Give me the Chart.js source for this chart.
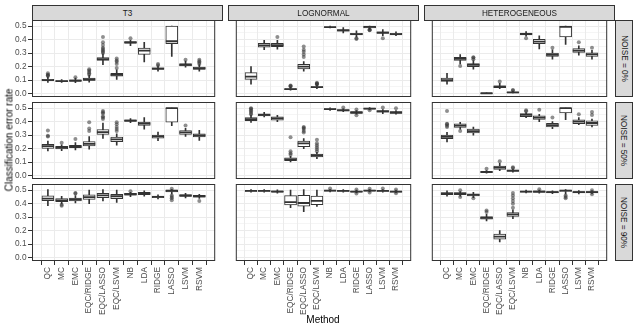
<!DOCTYPE html>
<html>
<head>
<meta charset="utf-8">
<script src="https://cdn.jsdelivr.net/npm/chart.js@4.4.0/dist/chart.umd.min.js"></script>
<style>
  body { margin: 0; background: #fff; font-family: "Liberation Sans", Arial, sans-serif; }
  #wrap { position: relative; width: 636px; height: 330px; overflow: hidden; background: #fff; }
  canvas { position: absolute; }
  .strip { position: absolute; box-sizing: border-box; background: #d9d9d9; border: 1px solid #333;
           color: #1a1a1a; font-size: 8.2px; display: flex; align-items: center; justify-content: center; }
  .strip span { white-space: nowrap; }
  .vstrip span { transform: rotate(90deg); }
  .title { position: absolute; font-size: 10px; color: #000; white-space: nowrap; }
</style>
</head>
<body>
<div id="wrap"></div>
<script>
const methods = ['QC', 'MC', 'EMC', 'EQC/RIDGE', 'EQC/LASSO', 'EQC/LSVM', 'NB', 'LDA', 'RIDGE', 'LASSO', 'LSVM', 'RSVM'];
const distributions = ['T3', 'LOGNORMAL', 'HETEROGENEOUS'];
const noiseLevels = ['NOISE = 0%', 'NOISE = 50%', 'NOISE = 90%'];
const yTicks = [0, 0.1, 0.2, 0.3, 0.4, 0.5];

// box stats per method: [lower whisker, q1, median, q3, upper whisker]
const t3Noise0 = [
  [0.082, 0.093, 0.100, 0.106, 0.122], [0.083, 0.088, 0.092, 0.096, 0.104], [0.080, 0.090, 0.095, 0.101, 0.115],
  [0.085, 0.097, 0.104, 0.114, 0.135], [0.215, 0.245, 0.255, 0.266, 0.295], [0.105, 0.128, 0.138, 0.150, 0.175],
  [0.355, 0.373, 0.379, 0.385, 0.395], [0.235, 0.291, 0.318, 0.337, 0.380], [0.165, 0.179, 0.185, 0.191, 0.205],
  [0.275, 0.370, 0.388, 0.500, 0.500], [0.195, 0.205, 0.213, 0.222, 0.240], [0.165, 0.178, 0.187, 0.197, 0.215]
];
const t3Noise0Out = [[0.13, 0.135, 0.14, 0.15], [], [0.12], [0.14, 0.15, 0.16, 0.17, 0.18],
  [0.30, 0.31, 0.32, 0.33, 0.34, 0.36, 0.38, 0.42], [0.19, 0.22, 0.235, 0.245, 0.26], [0.41], [],
  [0.21, 0.22], [], [0.25], [0.22, 0.23, 0.24, 0.25]];

const logNoise0 = [
  [0.070, 0.105, 0.125, 0.155, 0.200], [0.325, 0.345, 0.358, 0.372, 0.395], [0.330, 0.347, 0.360, 0.373, 0.395],
  [0.024, 0.029, 0.032, 0.036, 0.048], [0.165, 0.182, 0.200, 0.217, 0.238], [0.036, 0.043, 0.047, 0.051, 0.062],
  [0.487, 0.490, 0.493, 0.496, 0.500], [0.450, 0.463, 0.469, 0.475, 0.490], [0.420, 0.435, 0.441, 0.447, 0.465],
  [0.478, 0.488, 0.495, 0.500, 0.500], [0.430, 0.446, 0.452, 0.458, 0.475], [0.430, 0.435, 0.441, 0.447, 0.458]
];
const logNoise0Out = [[], [], [0.42], [0.052, 0.056, 0.06], [0.272, 0.29, 0.31, 0.325, 0.35],
  [0.066, 0.07, 0.075, 0.08], [], [], [0.405, 0.41], [0.47, 0.472, 0.475], [0.41], []];

const hetNoise0 = [
  [0.070, 0.090, 0.100, 0.114, 0.150], [0.220, 0.245, 0.257, 0.268, 0.290], [0.180, 0.200, 0.212, 0.222, 0.245],
  [0.000, 0.001, 0.002, 0.003, 0.005], [0.035, 0.044, 0.050, 0.057, 0.075], [0.000, 0.005, 0.008, 0.011, 0.018],
  [0.425, 0.436, 0.442, 0.448, 0.460], [0.332, 0.370, 0.385, 0.403, 0.428], [0.255, 0.275, 0.288, 0.300, 0.325],
  [0.365, 0.420, 0.495, 0.500, 0.500], [0.285, 0.305, 0.318, 0.333, 0.355], [0.255, 0.275, 0.290, 0.302, 0.320]
];
const hetNoise0Out = [[], [0.205], [0.255, 0.265, 0.27], [], [0.09], [0.022, 0.026], [0.41], [], [0.34], [], [0.38], [0.34]];

const t3Noise50 = [
  [0.182, 0.202, 0.218, 0.232, 0.255], [0.185, 0.198, 0.208, 0.216, 0.228], [0.190, 0.206, 0.215, 0.225, 0.245],
  [0.195, 0.220, 0.235, 0.252, 0.290], [0.275, 0.305, 0.322, 0.342, 0.390], [0.225, 0.252, 0.268, 0.285, 0.310],
  [0.393, 0.401, 0.407, 0.413, 0.422], [0.345, 0.372, 0.385, 0.396, 0.430], [0.258, 0.278, 0.290, 0.300, 0.322],
  [0.370, 0.397, 0.500, 0.500, 0.500], [0.290, 0.305, 0.320, 0.334, 0.350], [0.260, 0.287, 0.298, 0.310, 0.335]
];
const t3Noise50Out = [[0.29, 0.295, 0.335], [0.243], [0.272], [0.33, 0.35, 0.395], [0.42, 0.43, 0.44, 0.46, 0.47, 0.48],
  [0.33, 0.345, 0.36, 0.38, 0.395], [], [], [], [], [0.372], []];

const logNoise50 = [
  [0.395, 0.407, 0.418, 0.430, 0.448], [0.435, 0.442, 0.451, 0.459, 0.470], [0.400, 0.411, 0.424, 0.436, 0.447],
  [0.100, 0.110, 0.120, 0.131, 0.143], [0.200, 0.214, 0.238, 0.255, 0.275], [0.125, 0.138, 0.150, 0.160, 0.172],
  [0.483, 0.489, 0.493, 0.497, 0.503], [0.475, 0.479, 0.484, 0.489, 0.495], [0.455, 0.462, 0.468, 0.474, 0.482],
  [0.488, 0.492, 0.497, 0.500, 0.505], [0.460, 0.470, 0.476, 0.482, 0.490], [0.455, 0.462, 0.468, 0.474, 0.482]
];
const logNoise50Out = [[0.455, 0.465, 0.475, 0.485, 0.495, 0.5], [], [], [0.155, 0.165, 0.18, 0.285],
  [0.32, 0.33, 0.345, 0.355, 0.36], [0.18, 0.195, 0.21, 0.225, 0.24, 0.265], [], [0.505], [0.448, 0.49],
  [0.485], [0.505], [0.50]];

const hetNoise50 = [
  [0.250, 0.274, 0.288, 0.300, 0.320], [0.345, 0.357, 0.370, 0.383, 0.395], [0.300, 0.316, 0.330, 0.345, 0.360],
  [0.018, 0.022, 0.026, 0.030, 0.036], [0.035, 0.046, 0.058, 0.070, 0.090], [0.025, 0.031, 0.036, 0.040, 0.048],
  [0.430, 0.437, 0.450, 0.460, 0.468], [0.400, 0.417, 0.430, 0.444, 0.455], [0.348, 0.360, 0.374, 0.388, 0.400],
  [0.415, 0.465, 0.500, 0.500, 0.500], [0.378, 0.385, 0.400, 0.414, 0.430], [0.360, 0.372, 0.390, 0.407, 0.420]
];
const hetNoise50Out = [[0.36, 0.37, 0.38, 0.385, 0.48], [0.33], [], [0.05], [0.105], [0.056, 0.062],
  [0.478, 0.484], [0.488], [0.43], [], [0.455], [0.45, 0.472]];

const t3Noise90 = [
  [0.385, 0.422, 0.438, 0.458, 0.505], [0.400, 0.415, 0.425, 0.437, 0.455], [0.405, 0.420, 0.432, 0.442, 0.460],
  [0.400, 0.432, 0.448, 0.465, 0.500], [0.420, 0.445, 0.462, 0.476, 0.505], [0.410, 0.437, 0.455, 0.470, 0.500],
  [0.452, 0.463, 0.470, 0.477, 0.485], [0.455, 0.467, 0.476, 0.484, 0.495], [0.435, 0.444, 0.450, 0.457, 0.465],
  [0.470, 0.488, 0.496, 0.500, 0.505], [0.442, 0.453, 0.460, 0.467, 0.476], [0.438, 0.449, 0.455, 0.461, 0.470]
];
const t3Noise90Out = [[], [0.385, 0.392], [0.475, 0.48], [], [], [], [0.492], [], [],
  [0.425, 0.44, 0.45, 0.46, 0.51], [], [0.42]];

const logNoise90 = [
  [0.485, 0.491, 0.495, 0.499, 0.505], [0.485, 0.491, 0.495, 0.499, 0.505], [0.478, 0.485, 0.490, 0.495, 0.502],
  [0.370, 0.390, 0.412, 0.460, 0.500], [0.340, 0.382, 0.405, 0.462, 0.505], [0.380, 0.392, 0.420, 0.456, 0.500],
  [0.488, 0.493, 0.497, 0.500, 0.505], [0.485, 0.491, 0.495, 0.499, 0.505], [0.480, 0.486, 0.490, 0.494, 0.500],
  [0.488, 0.493, 0.497, 0.500, 0.505], [0.485, 0.491, 0.495, 0.499, 0.505], [0.480, 0.486, 0.490, 0.494, 0.500]
];
const logNoise90Out = [[], [], [], [], [], [], [0.512], [], [0.475, 0.505], [0.482, 0.51], [0.512], [0.478, 0.506]];

const hetNoise90 = [
  [0.455, 0.466, 0.474, 0.482, 0.495], [0.455, 0.466, 0.474, 0.482, 0.490], [0.445, 0.458, 0.465, 0.473, 0.485],
  [0.272, 0.284, 0.295, 0.304, 0.320], [0.115, 0.137, 0.155, 0.174, 0.200], [0.288, 0.305, 0.320, 0.334, 0.355],
  [0.480, 0.485, 0.490, 0.494, 0.500], [0.478, 0.484, 0.490, 0.495, 0.500], [0.475, 0.480, 0.485, 0.490, 0.495],
  [0.470, 0.490, 0.497, 0.500, 0.505], [0.472, 0.479, 0.485, 0.490, 0.498], [0.472, 0.479, 0.485, 0.490, 0.498]
];
const hetNoise90Out = [[], [0.45, 0.5], [0.44], [0.338, 0.35], [], [0.37, 0.4, 0.42, 0.44, 0.46, 0.48],
  [], [0.507], [], [0.44, 0.45, 0.46], [], [0.47, 0.5]];

const panels = [
  [[t3Noise0, t3Noise0Out], [logNoise0, logNoise0Out], [hetNoise0, hetNoise0Out]],
  [[t3Noise50, t3Noise50Out], [logNoise50, logNoise50Out], [hetNoise50, hetNoise50Out]],
  [[t3Noise90, t3Noise90Out], [logNoise90, logNoise90Out], [hetNoise90, hetNoise90Out]]
];

// layout of the facet grid
const panelLeft = [32, 228, 424], panelWidth = 191;
const panelTop = [20, 102, 184], panelHeight = 77;
const pad = 8, xAxisHeight = 60;
const ink = '#333333';

Chart.defaults.font.family = '"Liberation Sans", Arial, sans-serif';

const isMajor = v => Math.abs(v * 10 - Math.round(v * 10)) < 1e-6;
const yGrid = [];
yTicks.forEach((v, i) => {
  yGrid.push(v);
  if (i < yTicks.length - 1) yGrid.push((v + yTicks[i + 1]) / 2);
});

const panelBorder = {
  id: 'panelBorder',
  afterDraw(chart) {
    const { ctx, chartArea: a } = chart;
    ctx.save();
    ctx.strokeStyle = ink;
    ctx.lineWidth = 1;
    ctx.strokeRect(a.left + 0.5, a.top + 0.5, a.right - a.left - 1, a.bottom - a.top - 1);
    ctx.restore();
  }
};

const wrap = document.getElementById('wrap');

function makePanel(r, c) {
  const [stats, outliers] = panels[r][c];
  const left = c === 0, bottom = r === 2;
  const canvas = document.createElement('canvas');
  const cx = left ? 0 : panelLeft[c];
  const cw = left ? panelLeft[0] + panelWidth : panelWidth;
  const ch = pad + panelHeight + (bottom ? xAxisHeight : pad);
  canvas.width = cw;
  canvas.height = ch;
  canvas.style.left = cx + 'px';
  canvas.style.top = (panelTop[r] - pad) + 'px';
  wrap.appendChild(canvas);

  const whiskers = stats.map((s, i) => ({ x: i + 1, y: [s[0], s[4]] }));
  const boxes = stats.map((s, i) => ({ x: i + 1, y: [s[1], s[3]] }));
  const medians = stats.map((s, i) => ({ x: i + 1, y: s[2] }));
  const points = [];
  outliers.forEach((list, i) => list.forEach(v => points.push({ x: i + 1, y: v })));

  new Chart(canvas, {
    type: 'bar',
    data: {
      datasets: [
        { type: 'line', data: medians, showLine: false, order: 0, pointStyle: 'line',
          pointRadius: 6, pointBorderWidth: 1.8, pointBorderColor: ink },
        { type: 'line', data: points, showLine: false, order: 1, pointRadius: 2,
          pointBorderWidth: 0, pointBackgroundColor: 'rgba(51,51,51,0.55)' },
        { data: boxes, order: 2, grouped: false, barPercentage: 1, categoryPercentage: 1, maxBarThickness: 12,
          backgroundColor: '#ffffff', borderColor: ink, borderWidth: 1, borderSkipped: false },
        { data: whiskers, order: 3, grouped: false, barPercentage: 1, categoryPercentage: 1, maxBarThickness: 1,
          backgroundColor: ink, borderWidth: 0 }
      ]
    },
    options: {
      responsive: false,
      animation: false,
      events: [],
      layout: { padding: { top: pad, bottom: bottom ? 0 : pad, left: 0, right: 0 } },
      plugins: { legend: { display: false }, tooltip: { enabled: false } },
      scales: {
        x: {
          type: 'linear', min: 0.4, max: 12.6,
          afterBuildTicks: s => { s.ticks = methods.map((m, i) => ({ value: i + 1 })); },
          afterFit: s => { s.height = bottom ? xAxisHeight : 0; s.paddingLeft = 0; s.paddingRight = 0; },
          ticks: { display: bottom, autoSkip: false, minRotation: 90, maxRotation: 90, padding: 2,
                   color: '#4d4d4d', font: { size: 8.3 }, callback: v => methods[v - 1] },
          grid: { color: '#ebebeb', lineWidth: 1, drawTicks: bottom, tickLength: 4, tickColor: ink, tickWidth: 1 },
          border: { display: false }
        },
        y: {
          type: 'linear', min: -0.026, max: 0.546,
          afterBuildTicks: s => { s.ticks = yGrid.map(v => ({ value: v })); },
          afterFit: s => { s.width = left ? panelLeft[0] : 0; s.paddingTop = 0; s.paddingBottom = 0; },
          ticks: { display: left, padding: 1.5, color: '#4d4d4d', font: { size: 8.3 },
                   callback: v => isMajor(v) ? v.toFixed(1) : '' },
          grid: {
            color: '#ebebeb',
            lineWidth: ctx => (ctx.tick && !isMajor(ctx.tick.value)) ? 0.5 : 1,
            drawTicks: left, tickLength: 4, tickWidth: 1,
            tickColor: ctx => (ctx.tick && isMajor(ctx.tick.value)) ? ink : 'rgba(0,0,0,0)'
          },
          border: { display: false }
        }
      }
    },
    plugins: [panelBorder]
  });
}

for (let r = 0; r < 3; r++) {
  for (let c = 0; c < 3; c++) makePanel(r, c);
}

// strips
distributions.forEach((d, c) => {
  const s = document.createElement('div');
  s.className = 'strip';
  s.style.left = panelLeft[c] + 'px';
  s.style.top = '5px';
  s.style.width = panelWidth + 'px';
  s.style.height = '16px';
  s.innerHTML = '<span>' + d + '</span>';
  wrap.appendChild(s);
});
noiseLevels.forEach((n, r) => {
  const s = document.createElement('div');
  s.className = 'strip vstrip';
  s.style.left = (panelLeft[2] + panelWidth) + 'px';
  s.style.top = panelTop[r] + 'px';
  s.style.width = '18px';
  s.style.height = panelHeight + 'px';
  s.innerHTML = '<span>' + n + '</span>';
  wrap.appendChild(s);
});

// axis titles
const yTitle = document.createElement('div');
yTitle.className = 'title';
yTitle.textContent = 'Classification error rate';
yTitle.style.left = '9px';
yTitle.style.top = '140px';
yTitle.style.transform = 'translate(-50%, -50%) rotate(-90deg)';
wrap.appendChild(yTitle);

const xTitle = document.createElement('div');
xTitle.className = 'title';
xTitle.textContent = 'Method';
xTitle.style.left = '323px';
xTitle.style.top = '319px';
xTitle.style.transform = 'translate(-50%, -50%)';
wrap.appendChild(xTitle);
</script>
</body>
</html>
